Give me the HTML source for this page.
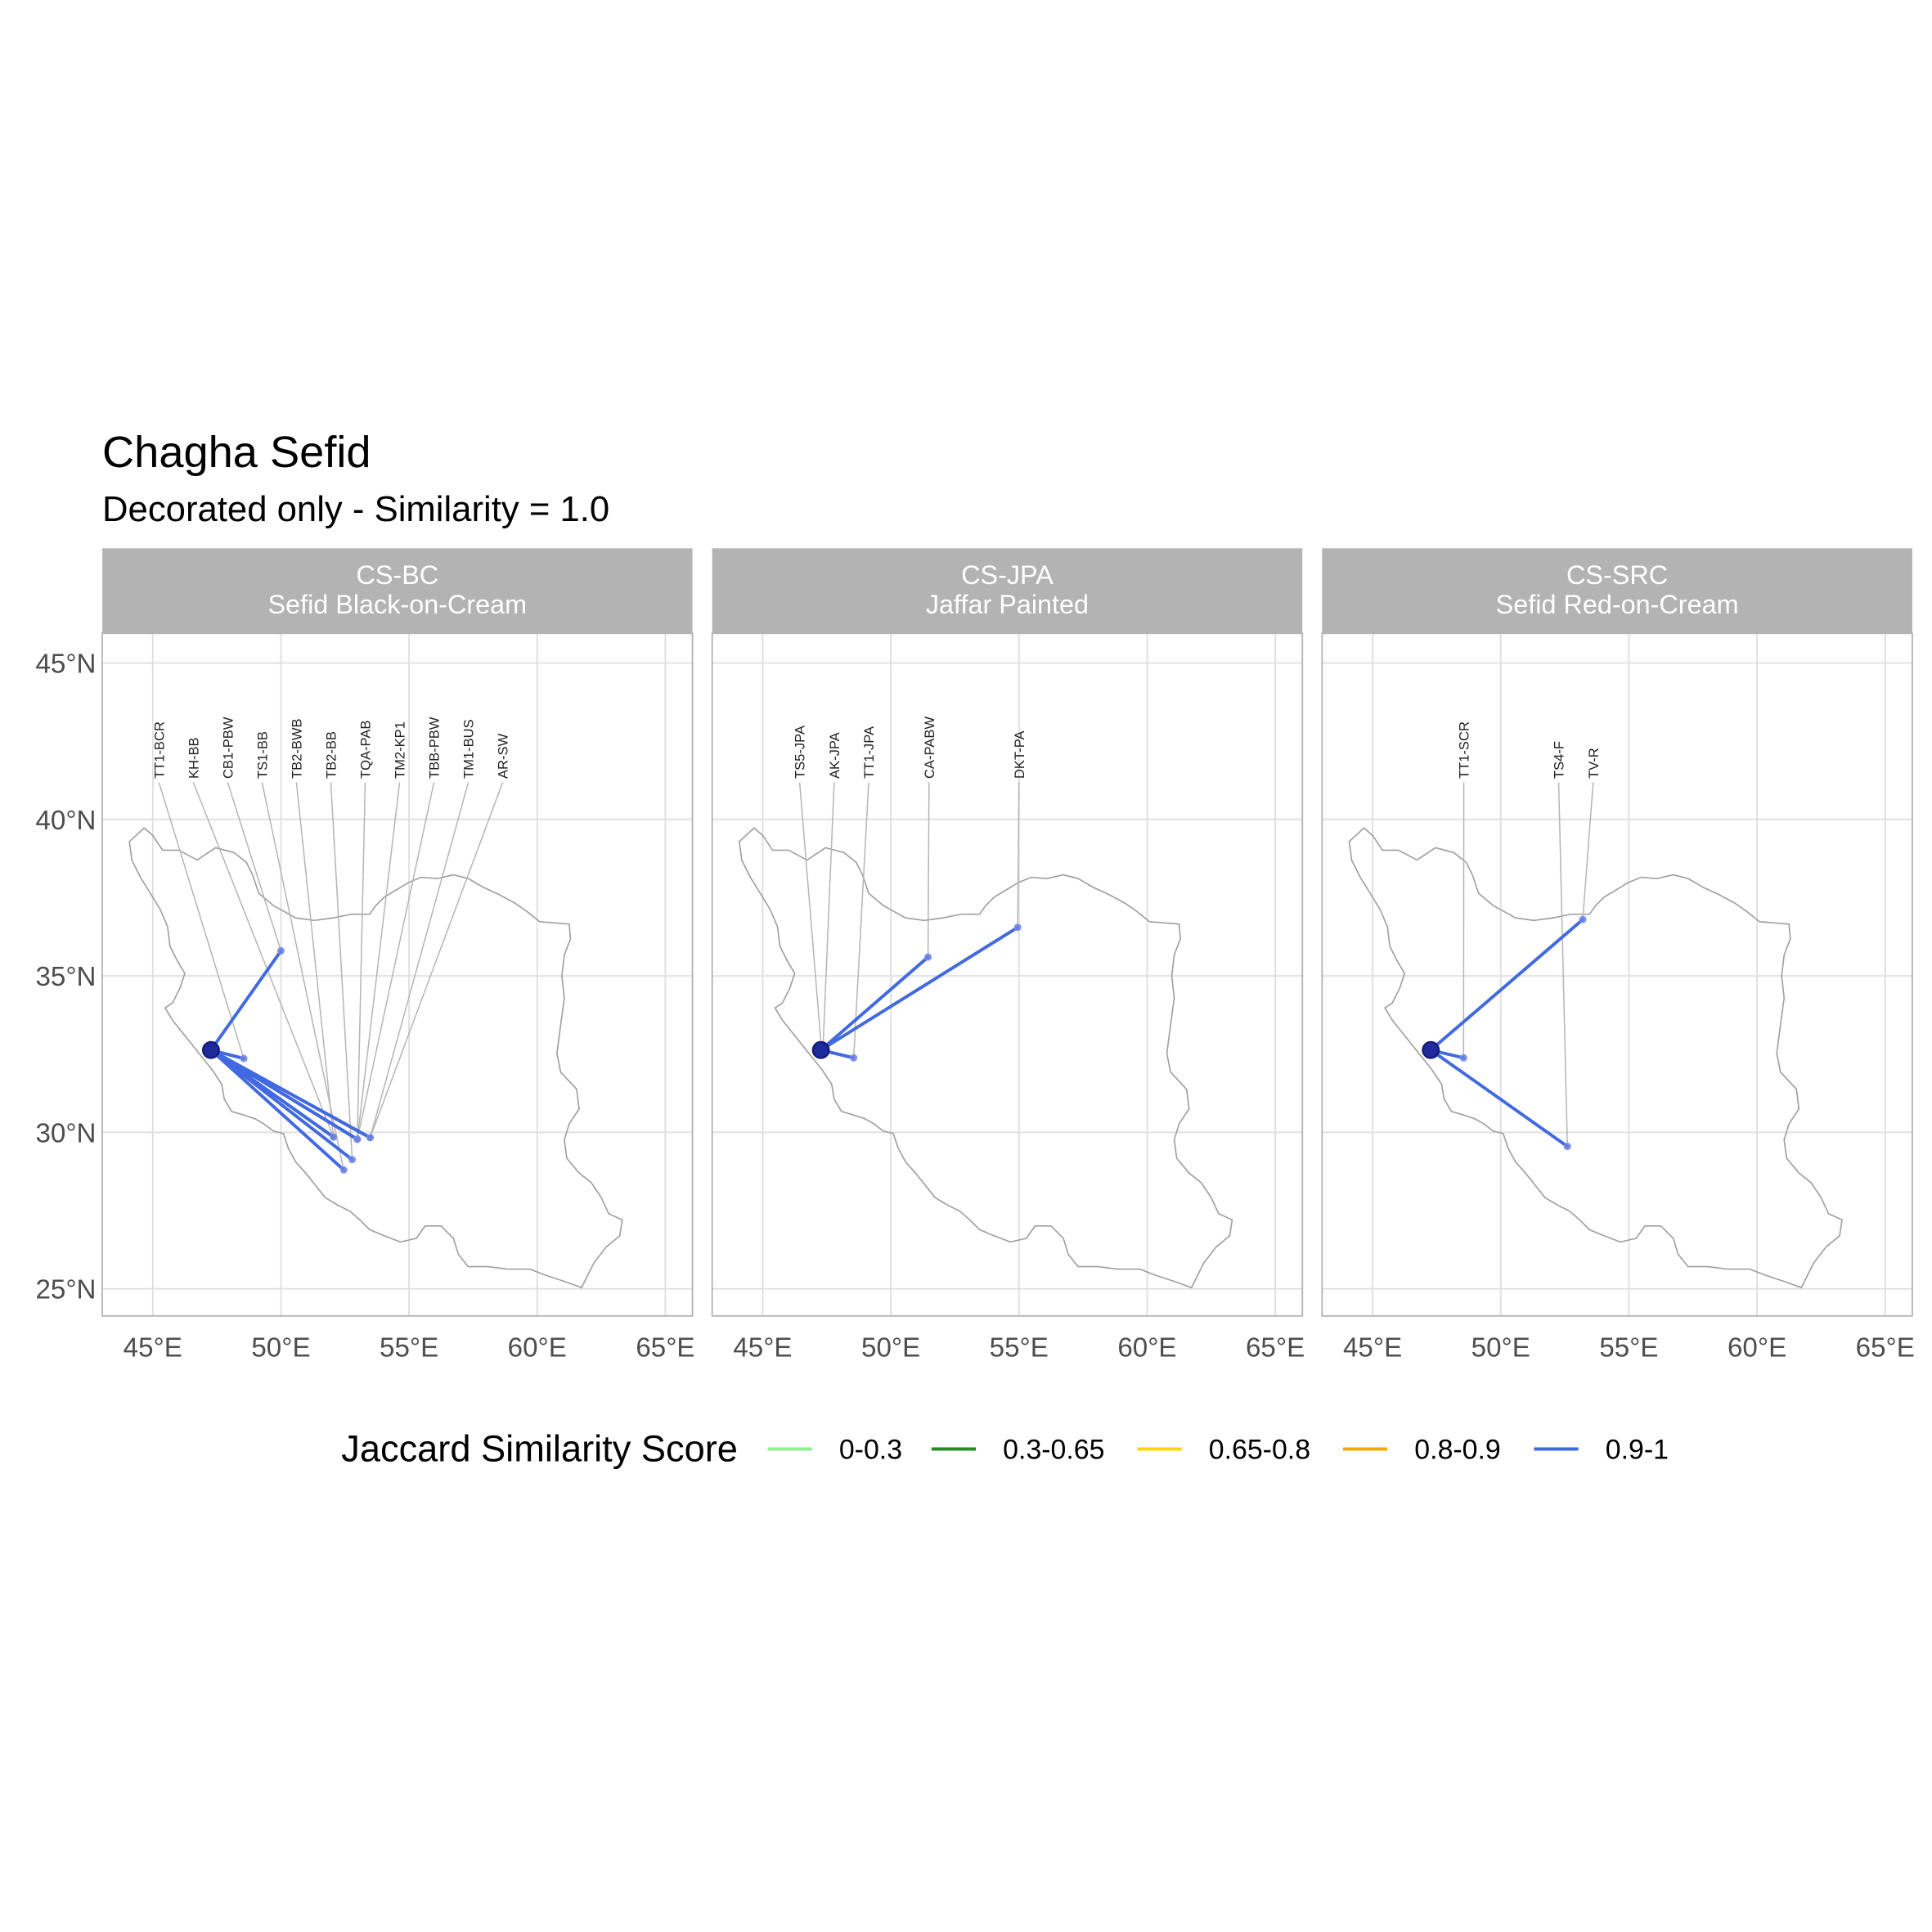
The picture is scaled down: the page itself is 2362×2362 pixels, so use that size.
<!DOCTYPE html>
<html><head><meta charset="utf-8"><style>
html,body{margin:0;padding:0;background:#fff;}
svg{display:block;font-family:"Liberation Sans",Arial,sans-serif;}
</style></head><body>
<svg id="chart" width="2362" height="2362" viewBox="0 0 1568 1568" xmlns="http://www.w3.org/2000/svg">
<rect width="1568" height="1568" fill="#fff"/>
<text x="83" y="379" font-size="36" fill="#000">Chagha Sefid</text>
<text x="83" y="423" font-size="29" fill="#000">Decorated only - Similarity = 1.0</text>
<g id="panels"></g>
<g id="legend"></g>
</svg>
<script>
const lonTicks = [45,50,55,60,65];
const latTicks = [25,30,35,40,45];
const panelIds = ["CS-BC","CS-JPA","CS-SRC"];
const panelNames = ["Sefid Black-on-Cream","Jaffar Painted","Sefid Red-on-Cream"];
const originLon = 47.27, originLat = 32.63;
const sites1 = ["TT1-BCR","KH-BB","CB1-PBW","TS1-BB","TB2-BWB","TB2-BB","TQA-PAB","TM2-KP1","TBB-PBW","TM1-BUS","AR-SW"];
const lons1 = [48.55,52.05,50.0,52.45,52.05,52.78,52.98,52.98,52.98,53.48,53.48];
const lats1 = [32.36,29.85,35.8,28.8,29.85,29.13,29.78,29.78,29.78,29.83,29.83];
const sites2 = ["TS5-JPA","AK-JPA","TT1-JPA","CA-PABW","DKT-PA"];
const lons2 = [47.3,47.35,48.55,51.45,54.95];
const lats2 = [32.6,32.65,32.38,35.6,36.55];
const sites3 = ["TT1-SCR","TS4-F","TV-R"];
const lons3 = [48.55,52.6,53.2];
const lats3 = [32.38,29.55,36.8];
const legendLabels = ["0-0.3","0.3-0.65","0.65-0.8","0.8-0.9","0.9-1"];
const legendColors = ["#90ee90","#228b22","#ffd700","#ffa500","#4169e1"];
// Iran outline trace (approximate)
const outlineTrace = [[105,683],[117,672],[124,678],[132,690],[145,690],[160,698],[175,688],[190,692],[200,700],[205,710],[210,725],[222,735],[240,745],[255,747],[270,745],[285,742],[300,742],[305,735],[312,728],[322,722],[332,716],[342,712],[355,713],[368,710],[380,713],[392,720],[405,726],[418,733],[428,740],[438,748],[450,749],[462,750],[463,762],[458,775],[456,792],[458,810],[455,832],[452,855],[455,870],[468,884],[470,900],[462,912],[458,925],[460,940],[470,952],[480,960],[488,972],[494,985],[505,990],[503,1003],[492,1012],[482,1025],[472,1045],[458,1040],[443,1035],[430,1030],[412,1030],[396,1028],[380,1028],[372,1018],[368,1005],[358,995],[345,995],[338,1005],[325,1008],[312,1003],[300,998],[292,990],[284,983],[274,978],[264,972],[256,962],[248,952],[240,943],[234,932],[230,920],[222,918],[214,912],[207,908],[198,905],[188,902],[182,892],[180,880],[172,868],[164,858],[156,848],[148,838],[140,828],[134,818],[140,814],[146,802],[150,790],[144,780],[138,768],[136,752],[130,738],[122,725],[114,712],[107,698]];
const outlineLon = outlineTrace.map(p => 45 + (p[0]-124)/20.8);
const outlineLat = outlineTrace.map(p => 45 - (p[1]-538)/25.4);

const NS="http://www.w3.org/2000/svg";
function mk(tag, attrs, parent){const e=document.createElementNS(NS,tag);for(const k in attrs)e.setAttribute(k,attrs[k]);parent.appendChild(e);return e;}
const panelLeft=[83,578,1073], panelW=479, plotTop=514, plotBot=1068, stripTop=445;
const root=document.getElementById("panels");
const allSites=[sites1,sites2,sites3], allLons=[lons1,lons2,lons3], allLats=[lats1,lats2,lats3];
for(let p=0;p<3;p++){
  const L=panelLeft[p];
  const x = lon => L + 41 + (lon-45)*20.8;
  const y = lat => 538 + (45-lat)*25.4;
  const g=mk("g",{},root);
  
  
  const strip=mk("rect",{x:L,y:stripTop,width:panelW,height:plotTop-stripTop,fill:"#b3b3b3"},g);
  
  
  const st1=mk("text",{x:L+panelW/2,y:474,"text-anchor":"middle","font-size":21.5,fill:"#fff"},g);st1.textContent=panelIds[p];
  
  
  const st2=mk("text",{x:L+panelW/2,y:498,"text-anchor":"middle","font-size":21.5,fill:"#fff"},g);st2.textContent=panelNames[p];
  
  
  lonTicks.forEach(v=>{const l=mk("line",{x1:x(v),x2:x(v),y1:plotTop,y2:plotBot,stroke:"#e0e0e0","stroke-width":1.3},g);
    
    
    const t=mk("text",{x:x(v),y:1101,"text-anchor":"middle","font-size":22,fill:"#4d4d4d"},g);t.textContent=v+"°E";
    
    });
  latTicks.forEach(v=>{const l=mk("line",{x1:L,x2:L+panelW,y1:y(v),y2:y(v),stroke:"#e0e0e0","stroke-width":1.3},g);
    
    
    if(p===0){const t=mk("text",{x:L-5,y:y(v)+8,"text-anchor":"end","font-size":22,fill:"#4d4d4d"},g);t.textContent=v+"°N";
    
    }});
  const border=mk("rect",{x:L,y:plotTop,width:panelW,height:plotBot-plotTop,fill:"none",stroke:"#b3b3b3","stroke-width":1.2},g);
  
  
  const d=outlineLon.map((lo,i)=>(i?"L":"M")+x(lo).toFixed(1)+","+y(outlineLat[i]).toFixed(1)).join("")+"Z";
  const ol=mk("path",{d:d,fill:"none",stroke:"#a0a0a0","stroke-width":1.1},g);
  
  
  const sites=allSites[p], lons=allLons[p], lats=allLats[p];
  const p2x=[649,677,705,754,827], p3x=[1188,1265,1293];
  sites.forEach((s,i)=>{
    const lx = p===0 ? L+46+i*27.9 : (p===1 ? p2x[i] : p3x[i]);
    const ld=mk("line",{x1:lx,y1:635,x2:x(lons[i]),y2:y(lats[i]),stroke:"#b5b5b5","stroke-width":1},g);
    
    
    const t=mk("text",{x:0,y:0,"font-size":11,fill:"#222","text-anchor":"start",transform:`translate(${lx+4},632) rotate(-90)`},g);
    t.textContent=s;
    
    
  });
  sites.forEach((s,i)=>{
    const ln=mk("line",{x1:x(originLon),y1:y(originLat),x2:x(lons[i]),y2:y(lats[i]),stroke:"#4169e1","stroke-width":2.6,"stroke-linecap":"round"},g);
    
    
  });
  sites.forEach((s,i)=>{
    const c=mk("circle",{cx:x(lons[i]),cy:y(lats[i]),r:2.6,fill:"#6a7fe0","fill-opacity":0.8,stroke:"#8090e8","stroke-width":0.8},g);
    
    
  });
  const o=mk("circle",{cx:x(originLon),cy:y(originLat),r:6.5,fill:"#1f2a9a",stroke:"#131a7a","stroke-width":1.5},g);
  
  
}
const lg=document.getElementById("legend");
const lt=mk("text",{x:277,y:1186,"font-size":30,fill:"#000"},lg);lt.textContent="Jaccard Similarity Score";


const legX=[623,756,923,1090,1245];
legendLabels.forEach((lab,i)=>{
  const l=mk("line",{x1:legX[i],x2:legX[i]+36,y1:1176,y2:1176,stroke:legendColors[i],"stroke-width":2.6},lg);
  
  
  const t=mk("text",{x:legX[i]+58,y:1184,"font-size":22.5,fill:"#000"},lg);t.textContent=lab;
  
  
});
</script>
</body></html>
